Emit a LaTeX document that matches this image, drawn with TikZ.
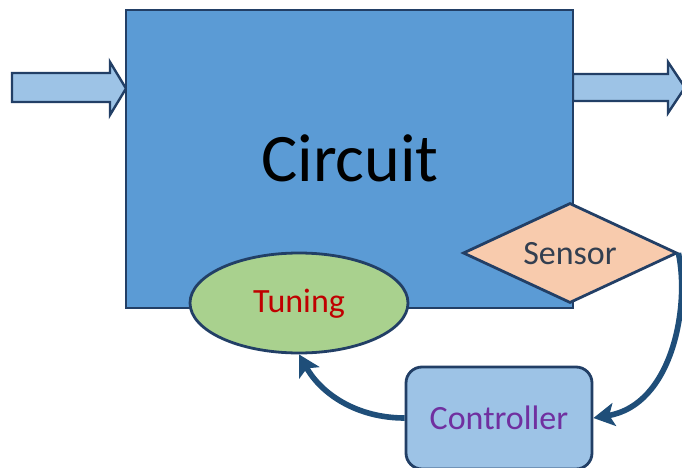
\documentclass[tikz,border=0pt]{standalone}
\usepackage{fontspec}
\setmainfont{Carlito}
\usetikzlibrary{shapes.geometric,arrows.meta}
\definecolor{edge}{HTML}{223F66}
\definecolor{circuitfill}{HTML}{5B9BD5}
\definecolor{lightblue}{HTML}{9DC3E6}
\definecolor{sensorfill}{HTML}{F8CBAD}
\definecolor{tuningfill}{HTML}{A9D18E}
\definecolor{flow}{HTML}{1F4E79}
\definecolor{tuningtext}{HTML}{C00000}
\definecolor{ctrltext}{HTML}{7030A0}
\definecolor{sensortext}{HTML}{333F50}
\tikzset{
  block/.style={draw=edge, line width=2.8pt},
  fatarrow/.style={draw=edge, fill=lightblue, line width=2.4pt, line join=miter},
  flowline/.style={draw=flow, line width=5.6pt, -{Stealth[length=21pt,width=23pt,inset=5pt]}},
  label/.style={font=\fontsize{34}{40}\selectfont}
}
\begin{document}
\begin{tikzpicture}[x=1pt,y=1pt]
  \clip (0,0) rectangle (682,467);
  \fill[white] (0,0) rectangle (682,467);

  % input and output arrows
  \draw[fatarrow] (12,365) -- (110,365) -- (110,352) -- (126,378.5) -- (110,405) -- (110,394) -- (12,394) -- cycle;
  \draw[fatarrow] (573,366) -- (668,366) -- (668,354) -- (685,379.5) -- (668,405) -- (668,393) -- (573,393) -- cycle;

  % main block
  \node[block, fill=circuitfill, minimum width=447pt, minimum height=298pt, inner sep=0pt] (circuit) at (349.5,308) {};
  \node[font=\fontsize{68}{72}\selectfont] (circuitlabel) at (350,309) {Circuit};

  % sensor, tuning and controller
  \node[diamond, aspect=2.14, block, fill=sensorfill, minimum width=214pt,
        minimum height=100pt, inner sep=0pt] (sensor) at (570,214) {};
  \node[label, text=sensortext] (sensorlabel) at (570,213) {Sensor};

  \node[ellipse, block, fill=tuningfill, minimum width=218pt,
        minimum height=100pt, inner sep=0pt] (tuning) at (299,164) {};
  \node[label, text=tuningtext] (tuninglabel) at (299,163) {Tuning};

  \node[block, fill=lightblue, rounded corners=16pt, minimum width=186pt,
        minimum height=102pt, inner sep=0pt] (controller) at (499,49) {};
  \node[label, text=ctrltext] (controllerlabel) at (499,49) {Controller};

  % feedback loop
  \draw[flowline] (sensor.east) .. controls (690,160) and (672,62) .. (controller.east);
  \draw[flowline] (controller.west) .. controls (358,49) and (322,72) .. (tuning.south);
\end{tikzpicture}
\end{document}
